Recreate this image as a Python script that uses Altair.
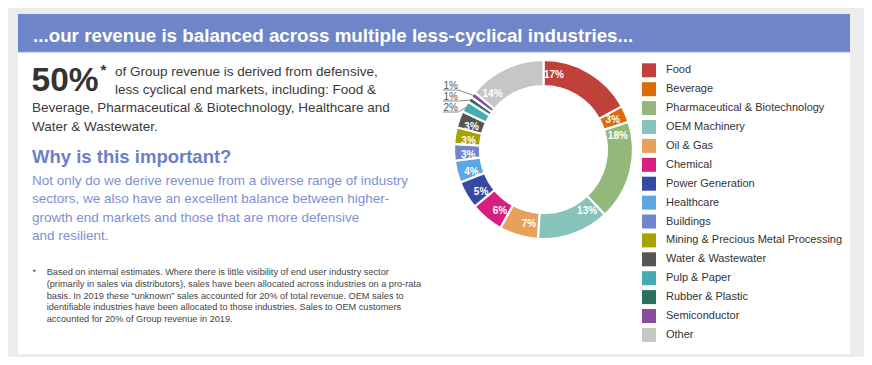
import math
import altair as alt
import numpy as np
import pandas as pd

# ---------------- data ----------------
categories = [
    "Food", "Beverage", "Pharmaceutical & Biotechnology", "OEM Machinery",
    "Oil & Gas", "Chemical", "Power Generation", "Healthcare", "Buildings",
    "Mining & Precious Metal Processing", "Water & Wastewater", "Pulp & Paper",
    "Rubber & Plastic", "Semiconductor", "Other",
]
shares = [17, 3, 18, 13, 7, 6, 5, 4, 3, 3, 3, 2, 1, 1, 14]
colors = [
    "#c0403a", "#dd6b08", "#94b87c", "#85c3bb", "#e8a15b", "#d71f80",
    "#354aa0", "#5ba6e4", "#6f86cc", "#a9a100", "#555555", "#46aaae",
    "#2b7163", "#8a4c9b", "#c6c6c6",
]
callout_cats = ["Semiconductor", "Rubber & Plastic", "Pulp & Paper"]

header_text = "...our revenue is balanced across multiple less-cyclical industries..."
big_figure = "50%"
intro_a = [
    "of Group revenue is derived from defensive,",
    "less cyclical end markets, including: Food &",
]
intro_b = [
    "Beverage, Pharmaceutical & Biotechnology, Healthcare and",
    "Water & Wastewater.",
]
heading = "Why is this important?"
para = [
    "Not only do we derive revenue from a diverse range of industry",
    "sectors, we also have an excellent balance between higher-",
    "growth end markets and those that are more defensive",
    "and resilient.",
]
footnote = [
    "Based on internal estimates. Where there is little visibility of end user industry sector",
    "(primarily in sales via distributors), sales have been allocated across industries on a pro-rata",
    "basis. In 2019 these \u201cunknown\u201d sales accounted for 20% of total revenue. OEM sales to",
    "identifiable industries have been allocated to those industries. Sales to OEM customers",
    "accounted for 20% of Group revenue in 2019.",
]

# ---------------- layout helpers ----------------
FONT = "Liberation Sans"
W, H = 856, 349
OX, OY = 8, 8


def px(x):
    return x - OX


def py(y):
    return y - OY


CX, CY = px(543.5), py(149.5)
R_OUT, R_IN, R_LAB = 89.5, 63.5, 75.5

total = float(sum(shares))
ends = np.cumsum(shares) / total * 100
starts = ends - np.array(shares) / total * 100
df = pd.DataFrame({
    "category": categories,
    "share": shares,
    "start": starts,
    "end": ends,
})
df["label"] = df["share"].astype(str) + "%"
df["lab"] = df["start"] + np.minimum(0.3 * df["share"], 2.2)
df.loc[df["category"] == "Beverage", "lab"] = (df["start"] + df["end"]) / 2
inside = df[df["share"] >= 3]

theta_scale = alt.Scale(domain=[0, 100], range=[0, 2 * math.pi])
one = pd.DataFrame({"k": [0]})

layers = []

# background panel + header band
layers.append(alt.Chart(one).mark_rect(color="#ffffff").encode(
    x=alt.value(px(18)), x2=alt.value(px(850)),
    y=alt.value(py(14)), y2=alt.value(py(354))))
layers.append(alt.Chart(one).mark_rect(color="#6e86c9").encode(
    x=alt.value(px(18)), x2=alt.value(px(850)),
    y=alt.value(py(14)), y2=alt.value(py(52))))
layers.append(alt.Chart(one).mark_rule(color="#93a4dc", strokeWidth=1).encode(
    x=alt.value(px(18)), x2=alt.value(px(850)), y=alt.value(py(52))))


def text_layer(lines, x, y0, lh, size, color, weight="normal", baseline="middle"):
    d = pd.DataFrame({
        "t": lines,
        "x": [x] * len(lines),
        "y": [y0 + i * lh for i in range(len(lines))],
    })
    return alt.Chart(d).mark_text(
        align="left", baseline=baseline, font=FONT, fontSize=size,
        color=color, fontWeight=weight,
    ).encode(
        x=alt.X("x:Q", scale=None, axis=None),
        y=alt.Y("y:Q", scale=None, axis=None),
        text="t:N",
    )


layers.append(text_layer([header_text], px(33), py(41.5), 0, 18.8, "#ffffff", "bold", "alphabetic"))
layers.append(text_layer([big_figure], px(31.5), py(90.5), 0, 33.5, "#333333", "bold", "alphabetic"))
layers.append(text_layer(["*"], px(100.5), py(63), 0, 15, "#333333", "bold", "top"))
layers.append(text_layer(intro_a, px(115), py(71.7), 18.4, 13.5, "#3a3a3a"))
layers.append(text_layer(intro_b, px(32), py(108.3), 18.4, 13.5, "#3a3a3a"))
layers.append(text_layer([heading], px(32), py(156.5), 0, 18.5, "#6b7fc8", "bold"))
layers.append(text_layer(para, px(32), py(181), 18.3, 13.5, "#7d8fd6"))
layers.append(text_layer(["*"], px(32.5), py(272.3), 0, 9.2, "#444444"))
layers.append(text_layer(footnote, px(46.7), py(272.3), 11.7, 9.2, "#444444"))

# donut
layers.append(alt.Chart(df).mark_arc(
    outerRadius=R_OUT, innerRadius=R_IN, stroke="#ffffff", strokeWidth=2.2, opacity=1,
).encode(
    theta=alt.Theta("start:Q", scale=theta_scale),
    theta2="end:Q",
    x=alt.value(CX), y=alt.value(CY),
    color=alt.Color(
        "category:N",
        scale=alt.Scale(domain=categories, range=colors),
        legend=alt.Legend(
            title=None, orient="none", legendX=px(642), legendY=py(63.3),
            symbolType="square", symbolSize=196, symbolStrokeWidth=0,
            symbolOpacity=1, labelFont=FONT, labelFontSize=11,
            labelColor="#333333", rowPadding=4.9, labelOffset=10, padding=0,
            labelLimit=300,
        ),
    ),
    order=alt.Order("start:Q"),
))

layers.append(alt.Chart(inside).mark_text(
    radius=R_LAB, font=FONT, fontSize=10, fontWeight="bold", color="#ffffff",
    align="center", baseline="middle",
).encode(
    theta=alt.Theta("lab:Q", scale=theta_scale),
    x=alt.value(CX), y=alt.value(CY),
    text="label:N",
))

# callouts for the smallest slices
rows = []
labs = []
for i, cat in enumerate(callout_cats):
    r = df[df["category"] == cat].iloc[0]
    ang = (r["start"] + r["end"]) / 2 / 100 * 2 * math.pi
    ex = CX + (R_OUT - 1.5) * math.sin(ang)
    ey = CY - (R_OUT - 1.5) * math.cos(ang)
    uy = py(90 + 11 * i)
    rows.append({"x1": px(443), "y1": uy, "x2": px(458.3), "y2": uy})
    rows.append({"x1": px(458.3), "y1": uy, "x2": ex, "y2": ey})
    labs.append({"t": r["label"], "x": px(443.5), "y": uy - 4.5})
rules = pd.DataFrame(rows)
layers.append(alt.Chart(rules).mark_rule(color="#8a8a8a", strokeWidth=1).encode(
    x=alt.X("x1:Q", scale=None, axis=None), x2="x2:Q",
    y=alt.Y("y1:Q", scale=None, axis=None), y2="y2:Q",
))
layers.append(alt.Chart(pd.DataFrame(labs)).mark_text(
    align="left", baseline="middle", font=FONT, fontSize=10, color="#555555",
).encode(
    x=alt.X("x:Q", scale=None, axis=None),
    y=alt.Y("y:Q", scale=None, axis=None),
    text="t:N",
))

chart = alt.layer(*layers).properties(
    width=W, height=H, background="#ececec", padding=0,
    autosize=alt.AutoSizeParams(type="none"),
).configure_view(strokeWidth=0)

chart.save("out.html", embed_options={"renderer": "svg", "actions": False})
